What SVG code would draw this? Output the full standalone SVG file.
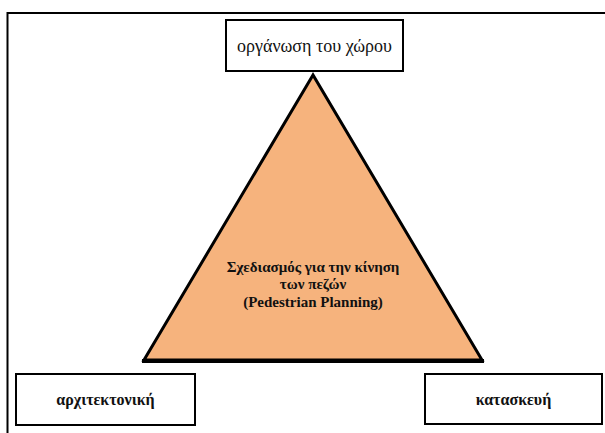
<svg xmlns="http://www.w3.org/2000/svg" width="605" height="433" viewBox="0 0 605 433">
<style>
.box{fill:#fff;stroke:#000;stroke-width:2}
.lbl{font-family:"Liberation Serif","DejaVu Serif",serif;font-size:18px;fill:#111;text-anchor:middle}
.b{font-weight:bold;font-size:16px}
.tri{font-family:"Liberation Serif","DejaVu Serif",serif;font-size:15px;font-weight:bold;fill:#111;text-anchor:middle}
</style>
<rect x="0" y="0" width="605" height="433" fill="#fff"/>
<path d="M7.5,440 V13 H610" fill="none" stroke="#000" stroke-width="2"/>
<g id="connectors"></g>
<g id="triangle">
<polygon points="313,75 144,360 482,360" fill="#f6b37d" stroke="#000" stroke-width="3" stroke-linejoin="miter"/>
<line x1="142" y1="361" x2="484" y2="361" stroke="#000" stroke-width="4"/>
<text class="tri" x="313" y="272">Σχεδιασμός για την κίνηση</text>
<text class="tri" x="313" y="289">των πεζών</text>
<text class="tri" x="313" y="307">(Pedestrian Planning)</text>
</g>
<g id="top">
<rect class="box" x="226" y="20" width="177" height="51"/>
<text class="lbl" x="314.5" y="52">οργάνωση του χώρου</text>
</g>
<g id="left">
<rect class="box" x="16" y="374" width="179" height="51"/>
<text class="lbl b" x="105.5" y="405">αρχιτεκτονική</text>
</g>
<g id="right">
<rect class="box" x="425" y="374" width="177" height="50"/>
<text class="lbl b" x="513.5" y="405">κατασκευή</text>
</g>
</svg>
